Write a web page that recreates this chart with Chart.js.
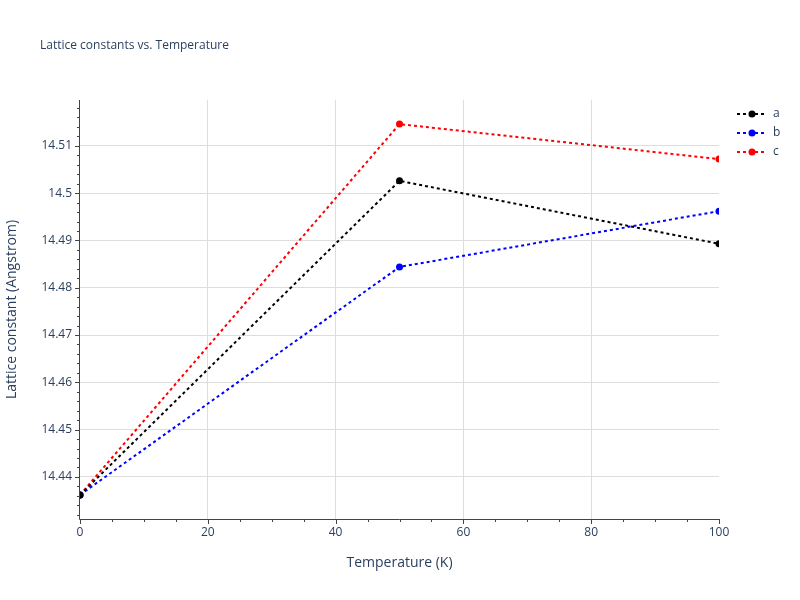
<!DOCTYPE html>
<html>
<head>
<meta charset="utf-8">
<script src="https://cdn.jsdelivr.net/npm/chart.js@4"></script>
<style>
  body { margin: 0; background: #fff; }
  #wrap { width: 800px; height: 600px; }
</style>
</head>
<body>
<div id="wrap"><canvas id="chart" width="800" height="600"></canvas></div>
<script>
const temperaturas = [0, 50, 100];
const serieA = [14.4362, 14.5026, 14.4893];
const serieB = [14.4362, 14.4844, 14.4962];
const serieC = [14.4362, 14.5146, 14.5072];
const nombres = ["a", "b", "c"];
const colores = ["#000000", "#0000ff", "#ff0000"];

const fuente = "'Open Sans', sans-serif";
const colorTexto = "#2a3f5f";

// titulo, ticks menores y leyenda al estilo plotly
const extras = {
  id: "extras",
  afterDraw(chart) {
    const ctx = chart.ctx;
    const xs = chart.scales.x, ys = chart.scales.y;
    const area = chart.chartArea;
    ctx.save();
    ctx.fillStyle = colorTexto;
    ctx.font = "12px " + fuente;
    ctx.textBaseline = "middle";
    ctx.fillText("Lattice constants vs. Temperature", 40, 46);

    // ejes
    ctx.strokeStyle = "#444";
    ctx.lineWidth = 1;
    ctx.beginPath();
    ctx.moveTo(area.left - 0.5, area.top);
    ctx.lineTo(area.left - 0.5, area.bottom + 0.5);
    ctx.lineTo(area.right, area.bottom + 0.5);
    ctx.stroke();

    // ticks
    ctx.beginPath();
    for (let v = 0; v <= 100; v += 5) {
      const px = Math.round(xs.getPixelForValue(v)) + 0.5;
      const len = v % 20 === 0 ? 5 : 3;
      ctx.moveTo(px, area.bottom);
      ctx.lineTo(px, area.bottom + len);
    }
    for (let i = 0; ; i++) {
      const v = 14.432 + i * 0.002;
      if (v > ys.max) break;
      const py = Math.round(ys.getPixelForValue(v)) + 0.5;
      const len = i % 5 === 4 ? 5 : 3;
      ctx.moveTo(area.left, py);
      ctx.lineTo(area.left - len, py);
    }
    ctx.stroke();

    // leyenda
    chart.data.datasets.forEach((ds, i) => {
      const y = 114 + i * 19;
      ctx.strokeStyle = ds.borderColor;
      ctx.lineWidth = 2;
      ctx.setLineDash([3, 3]);
      ctx.beginPath();
      ctx.moveTo(737, y);
      ctx.lineTo(767, y);
      ctx.stroke();
      ctx.setLineDash([]);
      ctx.fillStyle = ds.borderColor;
      ctx.beginPath();
      ctx.arc(752, y, 3.5, 0, Math.PI * 2);
      ctx.fill();
      ctx.fillStyle = colorTexto;
      ctx.fillText(ds.label, 773, y);
    });
    ctx.restore();
  }
};

const datos = [serieA, serieB, serieC];
new Chart(document.getElementById("chart"), {
  type: "line",
  data: {
    datasets: datos.map((serie, i) => ({
      label: nombres[i],
      data: temperaturas.map((t, j) => ({ x: t, y: serie[j] })),
      borderColor: colores[i],
      backgroundColor: colores[i],
      borderDash: [3, 3],
      borderWidth: 2,
      pointRadius: 3.5,
      pointBorderWidth: 0,
      tension: 0
    }))
  },
  options: {
    responsive: false,
    animation: false,
    layout: { padding: { left: 0, right: 81, top: 100, bottom: 25 } },
    plugins: { legend: { display: false }, title: { display: false }, tooltip: { enabled: false } },
    scales: {
      x: {
        type: "linear",
        min: 0, max: 100,
        border: { display: false },
        ticks: { stepSize: 20, color: colorTexto, font: { family: fuente, size: 12 }, padding: 6 },
        grid: { color: c => (c.tick.value === 0 || c.tick.value === 100) ? "rgba(0,0,0,0)" : "#dddddd", drawTicks: false },
        title: { display: true, text: "Temperature (K)", color: colorTexto, font: { family: fuente, size: 14 }, padding: { top: 14 } },
        afterFit: s => { s.height = 56; }
      },
      y: {
        min: 14.4311, max: 14.5197,
        border: { display: false },
        afterBuildTicks: s => {
          const t = [];
          for (let v = 14.44; v <= 14.5105; v += 0.01) t.push({ value: Math.round(v * 100) / 100 });
          s.ticks = t;
        },
        ticks: { color: colorTexto, font: { family: fuente, size: 12 }, padding: 8,
                 callback: v => String(Math.round(v * 100) / 100) },
        grid: { color: "#dddddd", drawTicks: false },
        title: { display: true, text: "Lattice constant (Angstrom)", color: colorTexto, font: { family: fuente, size: 14 }, padding: { bottom: 4 } },
        afterFit: s => { s.width = 80; }
      }
    }
  },
  plugins: [extras]
});
</script>
</body>
</html>
